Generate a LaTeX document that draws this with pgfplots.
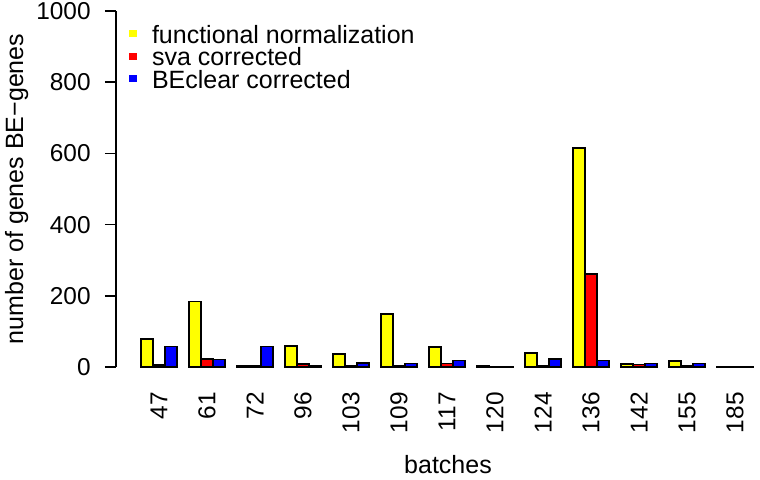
\documentclass[border=0pt]{standalone}
\usepackage{fontspec}
\setmainfont{Liberation Sans}
\usepackage{pgfplots}
\pgfplotsset{compat=1.18}
\definecolor{FNYellow}{RGB}{255,255,0}
\definecolor{SvaRed}{RGB}{255,0,0}
\definecolor{BEBlue}{RGB}{0,0,255}
\begin{document}
\begin{tikzpicture}
\begin{axis}[
    ybar=0pt,
    bar width=6pt,
    scale only axis,
    width=322pt,
    height=178pt,
    xmin=-0.896, xmax=12.52,
    ymin=0, ymax=1000,
    clip=false,
    axis y line*=left,
    axis x line*=bottom,
    x axis line style={draw=none},
    y axis line style={line width=0.8pt, black},
    xtick={0,1,...,12},
    xticklabels={47,61,72,96,103,109,117,120,124,136,142,155,185},
    xtick style={draw=none},
    ytick={0,200,...,1000},
    ytick style={line width=0.8pt, black},
    tick align=outside,
    major tick length=5.5pt,
    minor tick num=0,
    /pgf/number format/assume math mode=true,
    /pgf/number format/1000 sep={},
    tick label style={font=\fontsize{12.2}{12.2}\selectfont},
    yticklabel style={inner sep=0pt, xshift=-7pt},
    xticklabel style={yshift=-7pt, rotate=90, anchor=east, inner sep=0pt},
    xlabel={batches},
    xlabel style={at={(axis cs:6.02,0)}, anchor=base, yshift=-53pt, inner sep=0pt, font=\fontsize{12.5}{12.5}\selectfont},
    ylabel={number of genes BE−genes},
    ylabel style={at={(rel axis cs:-0.1444,0.5)}, anchor=base, inner sep=0pt, font=\fontsize{12.5}{12.5}\selectfont},
    legend image code/.code={\fill[#1,draw=none] (0pt,-1.5pt) rectangle (4pt,2pt);},
    legend cell align=left,
    legend style={
        at={(axis cs:-0.625,960)}, anchor=north west,
        draw=none, fill=none, inner sep=0pt, outer sep=0pt,
        row sep=2.25pt, column sep=7.5pt,
        font=\fontsize{12.5}{12.5}\selectfont,
        nodes={inner sep=0pt, text height=9pt, text depth=0pt},
    },
    every axis plot/.append style={draw=black, line width=0.8pt},
]
\addplot[fill=FNYellow] coordinates {
    (0,78) (1,184) (2,3) (3,59) (4,37) (5,149) (6,57)
    (7,2) (8,40) (9,615) (10,9) (11,17) (12,1)
};
\addlegendentry{functional normalization}
\addplot[fill=SvaRed] coordinates {
    (0,5) (1,23) (2,3) (3,8) (4,4) (5,3) (6,10)
    (7,1) (8,2) (9,262) (10,7) (11,3) (12,1)
};
\addlegendentry{sva corrected}
\addplot[fill=BEBlue] coordinates {
    (0,58) (1,21) (2,58) (3,4) (4,11) (5,10) (6,18)
    (7,1) (8,23) (9,18) (10,10) (11,10) (12,1)
};
\addlegendentry{BEclear corrected}
\end{axis}
\pgfresetboundingbox
\useasboundingbox (-58pt,-56pt) rectangle (322pt,183.5pt);
\end{tikzpicture}
\end{document}
